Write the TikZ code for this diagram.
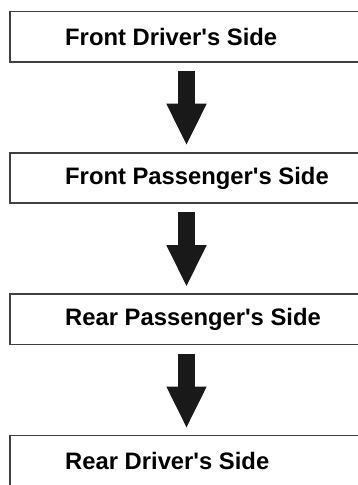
\documentclass[tikz,border=0pt]{standalone}
\usepackage{fontspec}
\newfontfamily\boxfont{Liberation Sans}[Ligatures=ResetAll]
\usetikzlibrary{arrows.meta,positioning}
\tikzset{
    sidebox/.style={
           rectangle,
           minimum width=348pt,
           minimum height=50pt,
           inner sep=0pt
           },
    sidetext/.style={
           anchor=west,
           inner sep=0pt,
           font=\boxfont\bfseries\fontsize{23.8}{28}\selectfont
           },
    boxline/.style={
           draw=black!75, line width=1.6pt,
           line join=miter
           },
    flowarrow/.style={
           line width=17pt,
           draw=black!90,
           -{Triangle[width=37pt,length=42pt]},
           shorten <=9pt,
           shorten >=7pt
           }
}

\begin{document}
\begin{tikzpicture}[x=1pt,y=1pt,node distance=91pt]
   \useasboundingbox (0,0) rectangle (358,-485);
   \node[sidebox, anchor=west] (fds) at (10,-36.5) {};
   \node[sidebox] (fps)[below=of fds] {};
   \node[sidebox] (rps)[below=of fps] {};
   \node[sidebox] (rds)[below=of rps] {};
   \node[sidetext] (fdst) at ([xshift=55pt]fds.west) {Front Driver's Side};
   \node[sidetext] (fpst) at ([xshift=55pt]fps.west) {Front Passenger's Side};
   \node[sidetext] (rpst) at ([xshift=55pt]rps.west) {Rear Passenger's Side};
   \node[sidetext] (rdst) at ([xshift=55pt]rds.west) {Rear Driver's Side};
   % boxes run off the right edge, so no right side
   \foreach \b in {fds,fps,rps,rds}
      \draw[boxline] (\b.north east) -- (\b.north west) -- (\b.south west) -- (\b.south east);
   \draw[flowarrow] ([xshift=176.5pt]fds.south west) -- ([xshift=176.5pt]fps.north west);
   \draw[flowarrow] ([xshift=176.5pt]fps.south west) -- ([xshift=176.5pt]rps.north west);
   \draw[flowarrow] ([xshift=176.5pt]rps.south west) -- ([xshift=176.5pt]rds.north west);
\end{tikzpicture}
\end{document}
